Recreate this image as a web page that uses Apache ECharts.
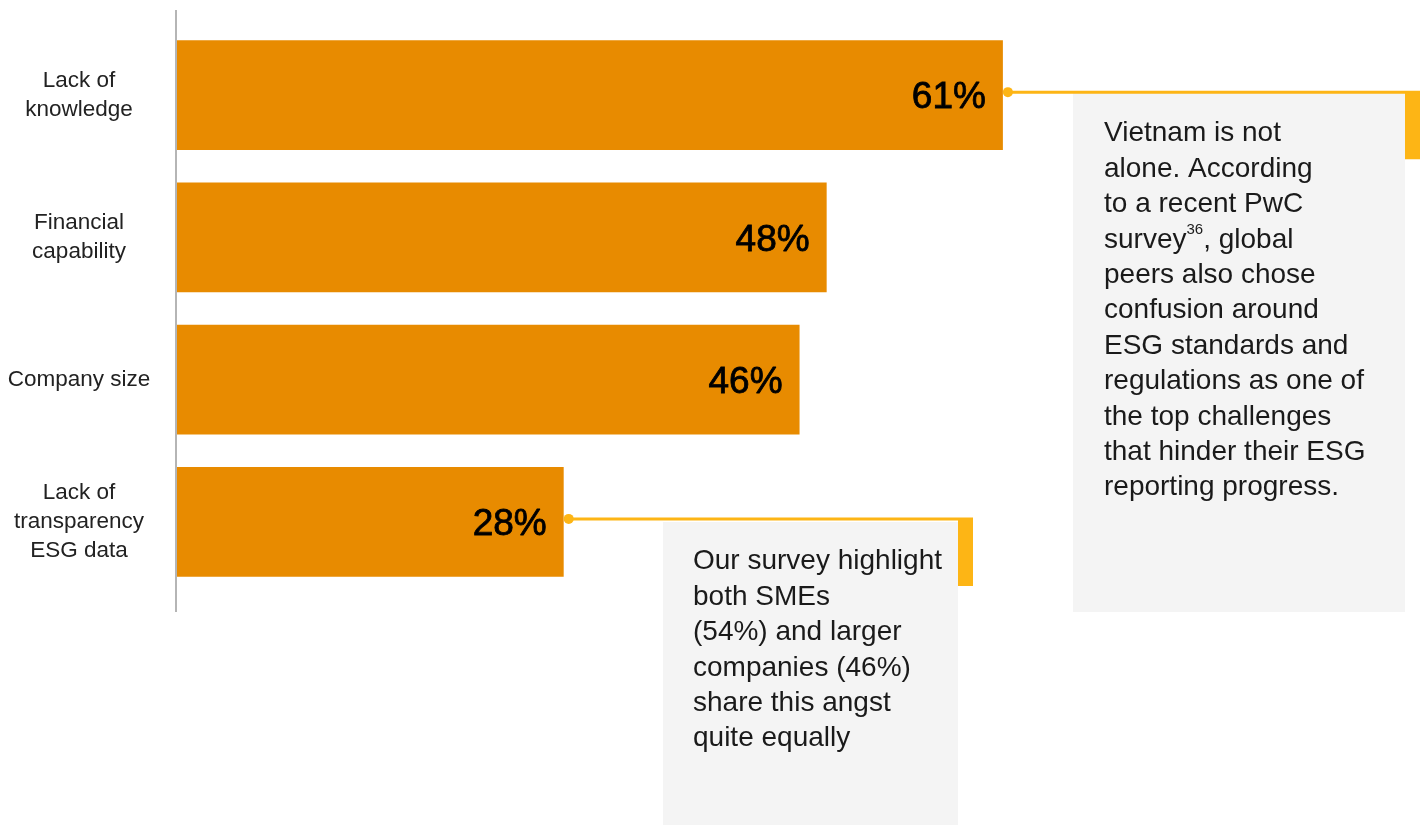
<!DOCTYPE html>
<html>
<head>
<meta charset="utf-8">
<script src="https://cdn.jsdelivr.net/npm/echarts@6/dist/echarts.min.js"></script>
<style>
html,body{margin:0;padding:0;background:#fff;}
#c{width:1422px;height:825px;}
</style>
</head>
<body>
<div id="c"></div>
<script>
// ---- data ----
var categories = ['Lack of\nknowledge', 'Financial\ncapability', 'Company size', 'Lack of\ntransparency\nESG data'];
var values = [61, 48, 46, 28.6];          // bar lengths
var valueLabels = ['61%', '48%', '46%', '28%'];
var note1 = 'Vietnam is not\nalone. According\nto a recent PwC\nsurvey{sup|36}, global\npeers also chose\nconfusion around\nESG standards and\nregulations as one of\nthe top challenges\nthat hinder their ESG\nreporting progress.';
var note2 = 'Our survey highlight\nboth SMEs\n(54%) and larger\ncompanies (46%)\nshare this angst\nquite equally';

var FONT = '"Liberation Sans", "Helvetica Neue", Arial, sans-serif';
var ORANGE = '#E88B00';
var YELLOW = '#FDB515';

var chart = echarts.init(document.getElementById('c'), null, {renderer: 'canvas'});

var option = {
  animation: false,
  backgroundColor: '#ffffff',
  grid: {left: 176, top: 24, width: 1220, height: 569, containLabel: false},
  xAxis: {
    type: 'value', min: 0, max: 90, show: false
  },
  yAxis: {
    type: 'category', inverse: true, data: categories,
    axisLine: {show: false}, axisTick: {show: false},
    axisLabel: {
      align: 'center', margin: 97, color: '#222', fontSize: 22.5,
      lineHeight: 29, fontFamily: FONT
    }
  },
  series: [{
    type: 'bar',
    data: values.map(function (v, i) {
      return {value: v, label: {formatter: valueLabels[i]}};
    }),
    barCategoryGap: '22.7%',
    itemStyle: {color: ORANGE},
    label: {
      show: true, position: 'insideRight', distance: 17, offset: [0, 3],
      color: '#000', fontSize: 37, fontWeight: 'normal', fontFamily: FONT,
      textBorderColor: '#000', textBorderWidth: 0.8
    }
  }]
};
chart.setOption(option);

function buildCallout(idx, lineEndX, boxX, boxY, boxW, boxH, textX, textTop, text) {
  var p = chart.convertToPixel({gridIndex: 0}, [values[idx], idx]);
  var dotX = p[0] + 5, dotY = p[1] - 3;
  return [
    {type: 'rect', shape: {x: boxX, y: boxY, width: boxW, height: boxH}, style: {fill: '#F4F4F4'}, z: 1},
    {type: 'line', shape: {x1: dotX, y1: dotY, x2: lineEndX, y2: dotY}, style: {stroke: YELLOW, lineWidth: 3}, z: 3},
    {type: 'circle', shape: {cx: dotX, cy: dotY, r: 5}, style: {fill: YELLOW}, z: 3},
    {type: 'rect', shape: {x: lineEndX - 15, y: dotY, width: 15, height: 67}, style: {fill: YELLOW}, z: 3},
    {type: 'text', x: textX, y: textTop, z: 4, style: {
      text: text, fill: '#1a1a1a', fontSize: 28, lineHeight: 35.4, fontFamily: FONT,
      verticalAlign: 'top', align: 'left',
      rich: {sup: {fontSize: 15, verticalAlign: 'top', lineHeight: 35.4, padding: [0, 0, 10, 0], fill: '#1a1a1a', fontFamily: FONT}}
    }}
  ];
}

var g = [];
g.push({type: 'line', shape: {x1: 176, y1: 10, x2: 176, y2: 612}, style: {stroke: '#b5b5b5', lineWidth: 2}, z: 5});
g = g.concat(buildCallout(0, 1420, 1073, 93, 332, 519, 1104, 116, note1));
g = g.concat(buildCallout(3, 973, 663, 522, 295, 303, 693, 544, note2));
chart.setOption({graphic: g});
</script>
</body>
</html>
